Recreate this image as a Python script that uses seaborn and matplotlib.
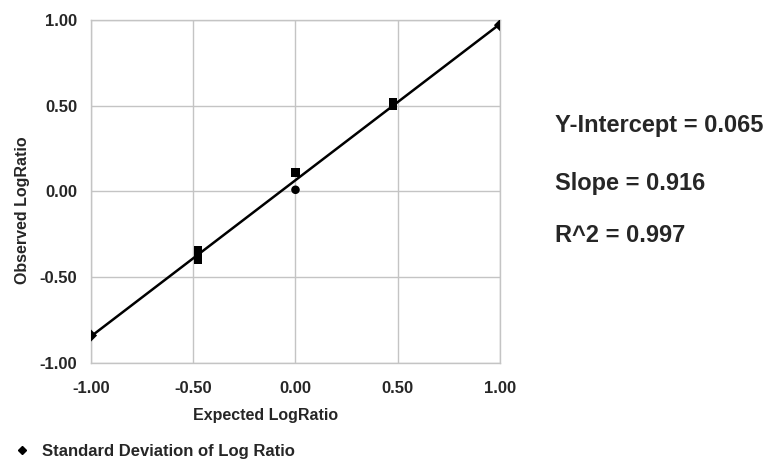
import pandas as pd
import numpy as np
import matplotlib
matplotlib.use("Agg")
import matplotlib.pyplot as plt
from matplotlib.lines import Line2D
import seaborn as sns

# expected vs observed log ratios
expected = [-1.0, -0.477, -0.477, -0.477, 0.0, 0.0, 0.477, 0.477, 1.0]
observed = [-0.84, -0.34, -0.37, -0.40, 0.11, 0.01, 0.50, 0.52, 0.97]
shape = ['end', 'sq', 'sq', 'sq', 'sq', 'half', 'sq', 'sq', 'end']

tick_vals = [-1.0, -0.5, 0.0, 0.5, 1.0]
tick_labels = ['-1.00', '-0.50', '0.00', '0.50', '1.00']
stats_text = ['Y-Intercept = 0.065', 'Slope = 0.916', 'R^2 = 0.997']
legend_label = 'Standard Deviation of Log Ratio'

data = pd.DataFrame({'Expected LogRatio': expected, 'Observed LogRatio': observed, 'shape': shape})

sns.set_style('white')
plt.rcParams['font.family'] = ['Liberation Sans', 'DejaVu Sans']

fig = plt.figure(figsize=(7.68, 4.61), dpi=100)
ax = fig.add_axes([0.1185, 0.2126, 0.5325, 0.744])

sns.regplot(x='Expected LogRatio', y='Observed LogRatio', data=data, scatter=False, ci=None,
            truncate=True, color='black', line_kws={'linewidth': 1.8}, ax=ax)
sns.scatterplot(x='Expected LogRatio', y='Observed LogRatio', data=data, style='shape',
                markers={'end': 'D', 'sq': 's', 'half': 'o'},
                s=38, color='black', edgecolor='black', linewidth=0,
                legend=False, ax=ax, zorder=3)

ax.set_xlim(-1.0, 1.0)
ax.set_ylim(-1.0, 1.0)
ax.set_xticks(tick_vals)
ax.set_xticklabels(tick_labels, fontsize=12, fontweight='bold')
ax.set_yticks(tick_vals)
ax.set_yticklabels(tick_labels, fontsize=12, fontweight='bold')
ax.tick_params(length=0)
ax.tick_params(axis='x', pad=13)
ax.tick_params(axis='y', pad=10)
ax.grid(True, color='#c4c4c4', linewidth=1.0)
for sp in ax.spines.values():
    sp.set_color('#c4c4c4')
    sp.set_linewidth(1.0)

ax.set_xlabel('Expected LogRatio', fontsize=11.5, fontweight='bold')
ax.set_ylabel('Observed LogRatio', fontsize=11.5, fontweight='bold')
ax.xaxis.set_label_coords(0.428, -0.152)
ax.xaxis.label.set_verticalalignment('center')
ax.yaxis.set_label_coords(-0.168, 0.446)
ax.yaxis.label.set_verticalalignment('center')
ax.yaxis.label.set_horizontalalignment('center')

baselines = [0.7137, 0.5879, 0.475]
for t, yb in zip(stats_text, baselines):
    fig.text(0.7227, yb, t, fontsize=17, fontweight='bold', va='baseline', ha='left')

handle = Line2D([], [], marker='D', color='black', linestyle='none', markersize=4.5)
fig.legend([handle], [legend_label], loc='center left', bbox_to_anchor=(0.007, 0.02),
           frameon=False, prop={'size': 12, 'weight': 'bold'}, handlelength=1.2,
           handletextpad=0.6, borderaxespad=0)

fig.savefig('out.png', dpi=100)
